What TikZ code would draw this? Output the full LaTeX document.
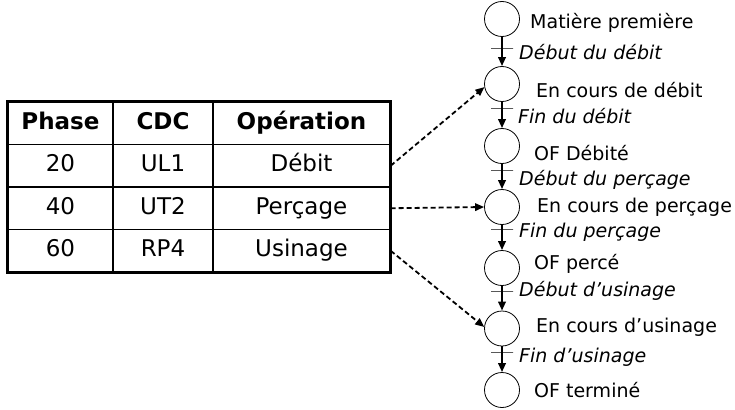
\documentclass[tikz,border=0pt]{standalone}
\usepackage{fontspec}
\setmainfont{DejaVu Sans}
\usetikzlibrary{arrows.meta}

\begin{document}
\begin{tikzpicture}[x=1pt, y=-1pt,
  >={Triangle[length=9pt, width=7.5pt]},
  cell/.style={draw, line width=1.3pt, minimum height=42.5pt, inner sep=0pt,
    text height=16pt, text depth=4pt, font=\fontsize{23}{27}\selectfont},
  head/.style={cell, font=\fontsize{23}{27}\selectfont\bfseries},
  state/.style={draw, circle, minimum size=35pt, inner sep=0pt, line width=0.8pt},
  statetext/.style={anchor=base west, inner sep=0pt, font=\fontsize{19}{22}\selectfont},
  trans/.style={anchor=base west, inner sep=0pt, font=\fontsize{19}{22}\selectfont\itshape},
  bar/.style={draw, line width=0.9pt, minimum width=22pt, minimum height=0pt,
    inner sep=0pt, outer sep=0pt},
  flow/.style={->, line width=2pt},
  link/.style={->, line width=1.8pt, dash pattern=on 5pt off 3pt}
]
  \useasboundingbox (0,0) rectangle (735,409);

  % table of phases
  \node[head, minimum width=105pt] (phase) at (60.5,123.25) {Phase};
  \node[head, minimum width=100pt] (cdc) at (163,123.25) {CDC};
  \node[head, minimum width=177pt] (oper) at (301.5,123.25) {Opération};
  \node[cell, minimum width=105pt] (p20) at (60.5,165.75) {20};
  \node[cell, minimum width=100pt] (c20) at (163,165.75) {UL1};
  \node[cell, minimum width=177pt] (o20) at (301.5,165.75) {Débit};
  \node[cell, minimum width=105pt] (p40) at (60.5,208.25) {40};
  \node[cell, minimum width=100pt] (c40) at (163,208.25) {UT2};
  \node[cell, minimum width=177pt] (o40) at (301.5,208.25) {Perçage};
  \node[cell, minimum width=105pt] (p60) at (60.5,250.75) {60};
  \node[cell, minimum width=100pt] (c60) at (163,250.75) {RP4};
  \node[cell, minimum width=177pt] (o60) at (301.5,250.75) {Usinage};
  \draw[line width=3pt] (phase.north west) rectangle (o60.south east);

  % states of the order
  \node[state] (s1) at (502,19) {};
  \node[state] (s2) at (502,84) {};
  \node[state] (s3) at (502,146) {};
  \node[state] (s4) at (502,207) {};
  \node[state] (s5) at (502,268) {};
  \node[state] (s6) at (502,328.5) {};
  \node[state] (s7) at (502,390) {};

  \node[statetext] (l1) at (530,29) {Matière première};
  \node[statetext] (l2) at (536,98) {En cours de débit};
  \node[statetext] (l3) at (534,160) {OF Débité};
  \node[statetext] (l4) at (537,212.5) {En cours de perçage};
  \node[statetext] (l5) at (534,269.5) {OF percé};
  \node[statetext] (l6) at (536,332) {En cours d’usinage};
  \node[statetext] (l7) at (534,397) {OF terminé};

  % transitions
  \node[bar] (t1) at (502,48) {};
  \node[bar] (t2) at (502,108) {};
  \node[bar] (t3) at (502,170) {};
  \node[bar] (t4) at (502,229) {};
  \node[bar] (t5) at (502,291) {};
  \node[bar] (t6) at (502,352) {};

  \node[trans] (d1) at (519,60) {Début du débit};
  \node[trans] (d2) at (518,123) {Fin du débit};
  \node[trans] (d3) at (519,185) {Début du perçage};
  \node[trans] (d4) at (519,237) {Fin du perçage};
  \node[trans] (d5) at (519,296) {Début d’usinage};
  \node[trans] (d6) at (519,362) {Fin d’usinage};

  \draw[flow] (s1) -- (s2);
  \draw[flow] (s2) -- (s3);
  \draw[flow] (s3) -- (s4);
  \draw[flow] (s4) -- (s5);
  \draw[flow] (s5) -- (s6);
  \draw[flow] (s6) -- (s7);

  % links from the table
  \draw[link] (o20.east) -- (s2.190);
  \draw[link] (o40.east) -- (s4.west);
  \draw[link] (o60.east) -- (s6.175);
\end{tikzpicture}
\end{document}
